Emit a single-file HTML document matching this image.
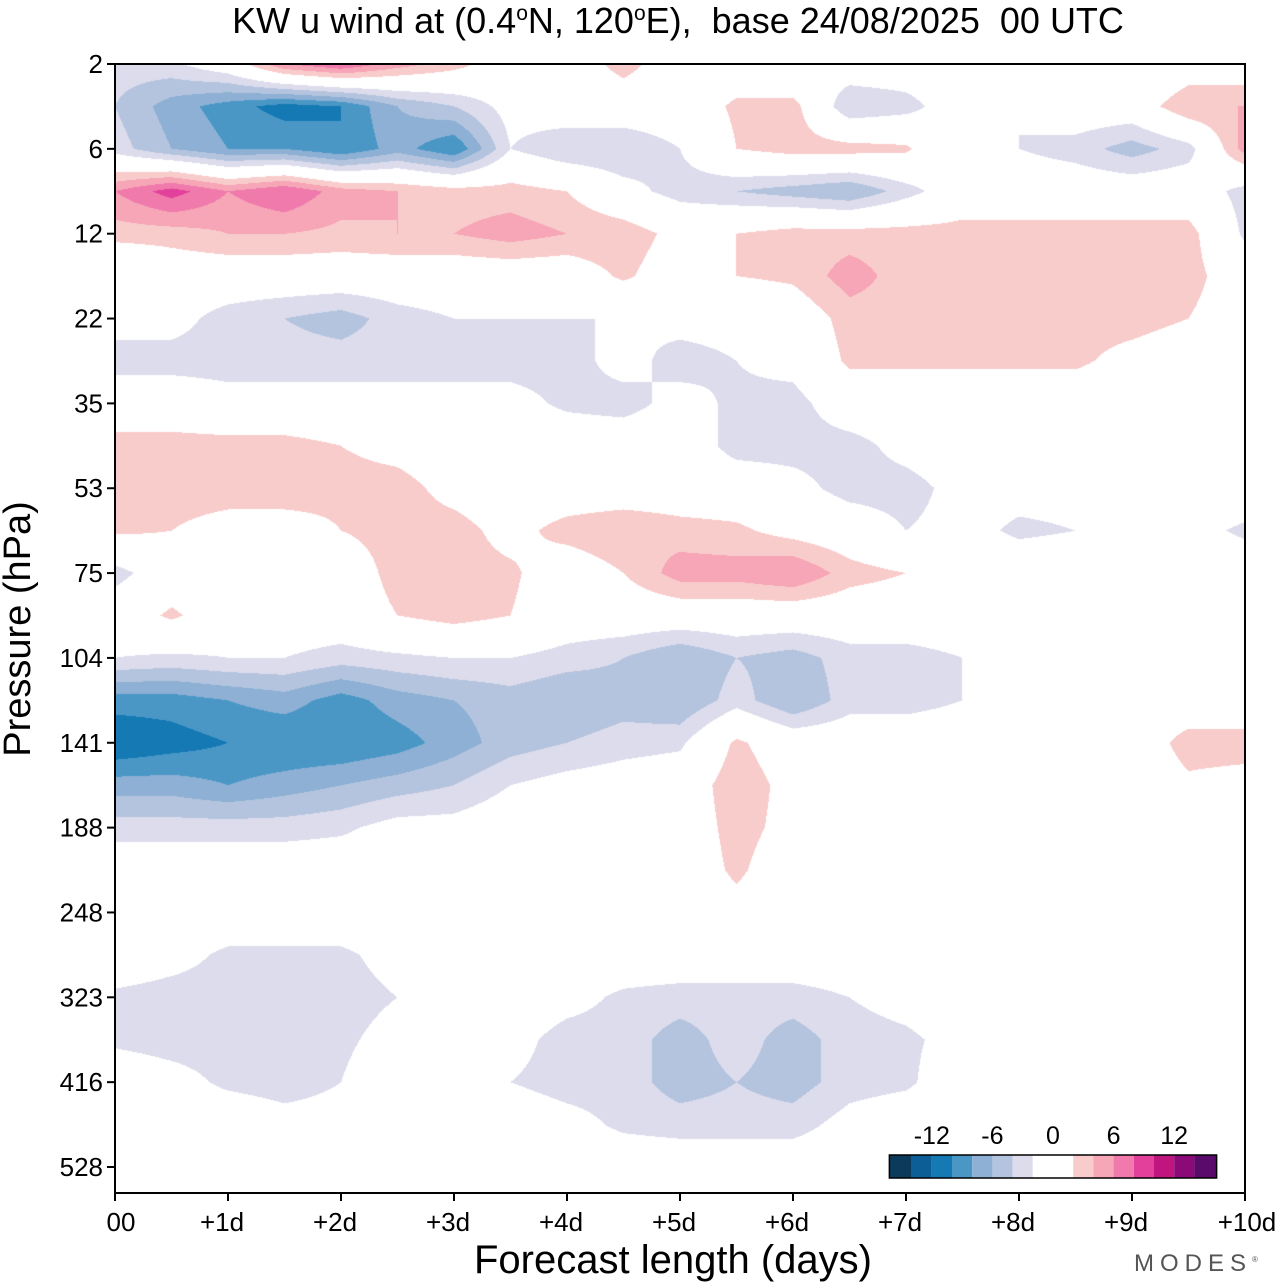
<!DOCTYPE html>
<html><head><meta charset="utf-8"><style>
body{margin:0;background:#fff;width:1280px;height:1286px;overflow:hidden;font-family:"Liberation Sans",sans-serif;position:relative}
.t{position:absolute;white-space:nowrap;color:#000}
</style></head><body>
<div class="t" style="left:0;width:1356px;text-align:center;top:0;font-size:36px">KW u wind at (0.4<sup style="font-size:21px">o</sup>N, 120<sup style="font-size:21px">o</sup>E),&nbsp; base 24/08/2025&nbsp; 00 UTC</div>
<canvas id="c" width="1280" height="1286" style="position:absolute;left:0;top:0"></canvas>
<svg id="s" width="1280" height="1286" style="position:absolute;left:0;top:0"></svg>
<div class="t" style="left:-132px;top:606px;width:300px;height:46px;line-height:46px;font-size:38px;text-align:center;transform:rotate(-90deg)">Pressure (hPa)</div>
<div class="t" style="left:474px;top:1238px;font-size:40px">Forecast length (days)</div>
<div class="t" style="left:1134px;top:1250px;font-size:24px;letter-spacing:6px;color:#555">MODES<sup style="font-size:8px">®</sup></div>
<script>
const days=[0,0.5,1,1.5,2,2.5,3,3.5,4,4.5,5,5.5,6,6.5,7,7.5,8,8.5,9,9.5,10];
const levelIdx=[0,0.5,1,1.5,2,2.5,3,3.5,4,4.5,5,5.5,6,6.5,7,7.5,8,8.5,9,9.5,10,10.5,11,11.5,12,12.5,13,13.5];
const pTicks=["2","6","12","22","35","53","75","104","141","188","248","323","416","528"];
const xTicks=["00","+1d","+2d","+3d","+4d","+5d","+6d","+7d","+8d","+9d","+10d"];
const cbLabels=[-12,-6,0,6,12];
const levels=[-14,-12,-10,-8,-6,-4,-2,2,4,6,8,10,12,14];
const colors=["#0b3a5a","#0c5e96","#1579b4","#4a97c6","#8db0d4","#b4c4de","#dcdcec","#ffffff","#f9cccc","#f6a6b6","#f07aac","#e2409a","#c0147e","#8c0a78","#5a0a6a"];
const u=[
[-3,-2.5,0,6,8,5,3,0,0,3,0,0,-2,0,0,0,0,0,-2,0,0],
[-4,-7,-9,-11,-10,-6,-4,-1,0,0,0,2.5,3,-4,-3,0,-2,0,0,4,4],
[-3,-6,-8,-8,-10,-7,-10,-2,-4,-4,-2,2,3,3,2.5,-2,-2,-3,-5,-3,5],
[6,9,6,8,5,4,3,3,2,-1,-3,-4,-5,-6,-3,0,0,0,0,0,-3],
[3,3,4,4,3.5,4,4,5,4,3.5,1,2,3,3,3,3,3,3,3,3,-2.5],
[-2,0,0,0,0,0,0,0,0,2.5,0,2,2.5,5,3,3,3,3,3,3,0],
[-1,-1,-3,-4,-5,-3,-2,-2,-2,-2,-1,-1,0,3,3,3,3,3,3,2,0],
[-3,-3,-3,-3,-3,-3,-3,-3,-3,-1,-3,-2,-1,2.5,2.5,2.5,2.5,2.5,1,0,0],
[0,0,-1,-1,-1,-1,-1,-1,-2.5,-3,-1,-2.5,-3,0,0,0,0,0,0,0,0],
[3,3,3,3,2,1,0,0,0,0,0,-3,-3,-3,-1,0,0,0,0,0,0],
[3,3,3,4,3,3,1,0,0,0,0,0,-1,-3,-3,-1,-1,-1,0,0,0],
[2.5,2,1,0,2,3,3,1,3,4,3,2.5,1,0,-2,-1,-2.5,-2,0,-1,-2.5],
[-3,0,0,-2,0,3,3,2.5,0,2,5,5,6,3,2,0,0,0,0,0,0],
[0,2.5,0,0,0,2,3,2,0,0,0,0,0,0,0,0,0,0,0,0,0],
[-2,-2.5,-2,-2,-3,-2.5,-2,-2,-3,-4,-6,-4,-5,-3,-3,-2,0,0,0,0,0],
[-9,-9,-8,-7,-9,-7,-6,-5,-6,-5,-6,-3,-6,-3,-3,-2,0,0,0,0,0],
[-12,-11,-10,-10,-10,-9,-7,-5,-4,-3,-2.5,2.5,0,0,0,0,0,0,0,3,3],
[-7,-7,-8,-7,-6,-5,-4,-2,-1,-0.5,0,3.5,1,0,0,0,0,0,0,1.5,1],
[-3,-3,-3,-3,-2.5,-1,-1,0,0,0,0,3,1,0,0,0,0,0,0,0,0],
[0,0,0,0,0,0,0,0,0,0,0,2.5,0,0,0,0,0,0,0,0,0],
[0,0,0,0,0,0,0,0,0,0,0,1,0,0,0,0,0,0,0,0,0],
[0,-1,-2.5,-2.5,-2.5,-1,0,0,0,0,0,0,0,0,0,0,0,0,0,0,0],
[-2.5,-3,-3,-3,-3,-2,-1,0,-1,-2.5,-3,-3,-3,-2,-1,0,0,0,0,0,0],
[-2.5,-3,-3,-3,-2.5,-1,0,-1,-3,-3,-5,-3,-5,-3,-2.5,-1,0,0,0,0,0],
[0,-1,-2.5,-3,-2,0,0,-2,-3,-3,-5,-4,-5,-3,-2.5,0,0,0,0,0,0],
[0,0,0,-1,-1,0,0,0,-1,-2.5,-3,-3,-3,-1,0,0,0,0,0,0,0],
[0,0,0,0,0,0,0,0,0,0,0,0,0,0,0,0,0,0,0,0,0],
[0,0,0,0,0,0,2,0,1,0,2,0,2,0,0,0,0,0,0,0,0]
];
const X0=115,X1=1245,Y0=64,Y1=1193;
const xs=d=>X0+d*(X1-X0)/10;
const ys=p=>Y0+p*(1167-64)/13;
function hex(c){return [parseInt(c.slice(1,3),16),parseInt(c.slice(3,5),16),parseInt(c.slice(5,7),16)];}
const rgb=colors.map(hex);
function idxFor(v){let i=0;while(i<levels.length&&v>=levels[i])i++;return i;}
const cv=document.getElementById('c'),ctx=cv.getContext('2d');
const W=X1-X0,H=Y1-Y0;
const img=ctx.createImageData(W,H);
const dStep=days[1]-days[0],pStep=levelIdx[1]-levelIdx[0];
for(let py=0;py<H;py++){
  const p=(py+0.5)/(ys(1)-ys(0));
  let r=p/pStep;let r0=Math.min(Math.floor(r),levelIdx.length-2);let fr=Math.min(r-r0,1);
  for(let px=0;px<W;px++){
    const d=(px+0.5)/(xs(1)-xs(0));
    let c=d/dStep;let c0=Math.min(Math.floor(c),days.length-2);let fc=c-c0;
    const v=(u[r0][c0]*(1-fc)+u[r0][c0+1]*fc)*(1-fr)+(u[r0+1][c0]*(1-fc)+u[r0+1][c0+1]*fc)*fr;
    const k=rgb[idxFor(v)];const o=(py*W+px)*4;
    img.data[o]=k[0];img.data[o+1]=k[1];img.data[o+2]=k[2];img.data[o+3]=255;
  }
}
ctx.putImageData(img,X0,Y0);
const s=document.getElementById('s');const NS='http://www.w3.org/2000/svg';
function el(t,a,txt){const e=document.createElementNS(NS,t);for(const k in a)e.setAttribute(k,a[k]);if(txt!=null)e.textContent=txt;s.appendChild(e);return e;}
let fr=el('rect',{x:X0,y:Y0,width:W,height:H,fill:'none',stroke:'#000','stroke-width':2});


pTicks.forEach((t,i)=>{const y=ys(i);
  const l=el('line',{x1:X0-8,x2:X0,y1:y,y2:y,stroke:'#000','stroke-width':2});
  
  
  const tx=el('text',{x:X0-12,y:y+9,'text-anchor':'end','font-size':26,'font-family':'Liberation Sans'},t);
  
  
});
xTicks.forEach((t,i)=>{const x=xs(i);
  const l=el('line',{x1:x,x2:x,y1:Y1,y2:Y1+8,stroke:'#000','stroke-width':2});
  
  
  const tx=el('text',{x:i==0?x+6:x-6+(i==10?8:0),y:Y1+38,'text-anchor':'middle','font-size':26,'font-family':'Liberation Sans'},t);
  
  
});
const cbX=v=>1053+v*10.1;
const edges=[-16.2].concat(levels).concat([16.2]);
for(let i=0;i<colors.length;i++){
  const r=el('rect',{x:cbX(edges[i]),y:1155,width:cbX(edges[i+1])-cbX(edges[i]),height:23,fill:colors[i]});
  
  
}
const cbf=el('rect',{x:cbX(-16.2),y:1155,width:cbX(16.2)-cbX(-16.2),height:23,fill:'none',stroke:'#000','stroke-width':1.5});


cbLabels.forEach(v=>{
  const tx=el('text',{x:cbX(v),y:1144,'text-anchor':'middle','font-size':25,'font-family':'Liberation Sans'},String(v));
  
  
});
</script>
</body></html>
